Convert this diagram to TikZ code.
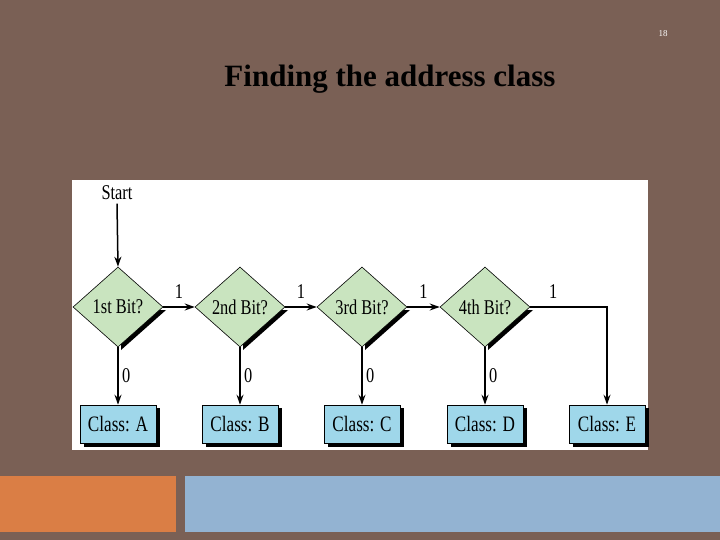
\documentclass[tikz,border=0pt]{standalone}
\usepackage{fontspec}
\setmainfont{Liberation Serif}
\newfontfamily\cond{Liberation Serif}[FakeStretch=0.78]
\usetikzlibrary{shapes.geometric,arrows.meta}
\definecolor{bg}{HTML}{7A6055}
\definecolor{dgreen}{HTML}{C9E4BF}
\definecolor{bbox}{HTML}{9FD7EA}
\definecolor{org}{HTML}{DA7E45}
\definecolor{blu}{HTML}{93B3D2}
\begin{document}
\begin{tikzpicture}[x=1pt,y=-1pt,
 dia/.style={diamond,draw,fill=dgreen,minimum width=90pt,minimum height=80pt,inner sep=0pt,aspect=1.1,font=\cond\fontsize{21}{21}\selectfont,line width=0.6pt},
 cls/.style={rectangle,draw,fill=bbox,minimum width=76pt,minimum height=38pt,font=\cond\fontsize{22}{22}\selectfont,line width=0.6pt},
 arr/.style={-{Stealth[length=10pt,width=7pt]},line width=1.5pt},
 lab/.style={font=\cond\fontsize{21}{21}\selectfont}]
\useasboundingbox (0,0) rectangle (720,540);
\fill[bg] (0,0) rectangle (720,540);
\fill[white] (72,180) rectangle (648,450);
\fill[org] (0,476) rectangle (176,532);
\fill[blu] (185,476) rectangle (720,532);
\node[white,font=\fontsize{9}{9}\selectfont] (pg) at (663,34) {18};
\node[font=\bfseries\fontsize{31}{31}\selectfont] (title) at (390,79) {Finding the address class};
\node[lab] (start) at (117,193) {Start};
\foreach \i/\x/\t/\c in {1/118/1st/A,2/240/2nd/B,3/362/3rd/C,4/485/4th/D}{
  \fill (\x+3,307+3) -- (\x+48,307+3) -- (\x+3,347+3) -- cycle;
  \node[dia] (d\i) at (\x,307) {\t\ Bit?};
  \fill (\x-38+4,404+4) rectangle (\x+38+4,443+4);
  \node[cls] (c\i) at (\x,424) {Class: \c};
  \draw[arr] (d\i.south) -- (c\i.north) node[lab,midway,right] {0};
}
\fill (607-38+4,404+4) rectangle (607+38+4,443+4);
\node[cls] (c5) at (607,424) {Class: E};
\draw[arr] (start.south) -- (d1.north);
\draw[arr] (d1.east) -- (d2.west) node[lab,midway,above,yshift=4pt] {1};
\draw[arr] (d2.east) -- (d3.west) node[lab,midway,above,yshift=4pt] {1};
\draw[arr] (d3.east) -- (d4.west) node[lab,midway,above,yshift=4pt] {1};
\coordinate (k) at (607,307);
\draw[arr] (d4.east) -- (k) node[lab,pos=0.3,above,yshift=4pt] {1} -- (c5.north);
\end{tikzpicture}
\end{document}
